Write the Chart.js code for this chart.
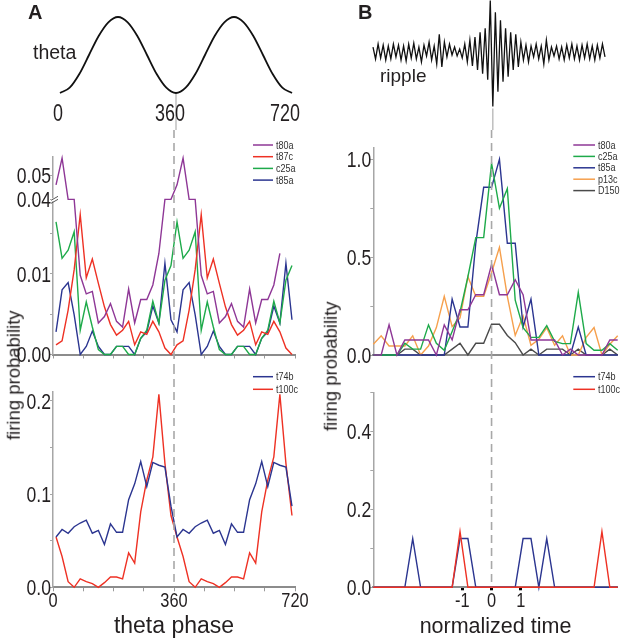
<!DOCTYPE html>
<html>
<head>
<meta charset="utf-8">
<script src="https://cdn.jsdelivr.net/npm/chart.js@4.4.1/dist/chart.umd.min.js"></script>
<style>
html, body { margin: 0; padding: 0; background: #fff; overflow: hidden; }
#fig { position: relative; width: 622px; height: 640px; font-family: 'Liberation Sans', Arial, sans-serif; color: #231f20; }
#fig canvas { position: absolute; }
.lbl { position: absolute; white-space: nowrap; line-height: 1; }
.nar { text-align: center; width: 50px; font-size: 23px; transform: scaleX(0.78); }
.ylab { width: 200px; text-align: center; font-size: 18.5px; transform: rotate(-90deg); }
</style>
</head>
<body>
<div id="fig">
  <canvas id="thetaWave" width="311" height="130" style="left:0;top:0"></canvas>
  <canvas id="thetaMid" width="311" height="236" style="left:0;top:130px"></canvas>
  <canvas id="thetaBot" width="311" height="274" style="left:0;top:366px"></canvas>
  <canvas id="rippleWave" width="311" height="130" style="left:311px;top:0"></canvas>
  <canvas id="rippleMid" width="311" height="236" style="left:311px;top:130px"></canvas>
  <canvas id="rippleBot" width="311" height="274" style="left:311px;top:366px"></canvas>

  <div class="lbl" style="left:28px;top:2px;font-size:20px;font-weight:bold">A</div>
  <div class="lbl" style="left:358px;top:2px;font-size:20px;font-weight:bold">B</div>
  <div class="lbl" style="left:33px;top:43px;font-size:19.5px">theta</div>
  <div class="lbl" style="left:380px;top:66px;font-size:19px">ripple</div>
  <div class="lbl nar" style="left:33px;top:102px">0</div>
  <div class="lbl nar" style="left:145px;top:102px">360</div>
  <div class="lbl nar" style="left:260px;top:102px">720</div>
  <div class="lbl ylab" style="left:-86px;top:366px">firing probability</div>
  <div class="lbl ylab" style="left:231px;top:357px">firing probability</div>
</div>

<script>
// ---------- A: theta phase (one cycle, bins of 18 deg, plotted twice) ----------
const thetaBins = [9, 27, 45, 63, 81, 99, 117, 135, 153, 171, 189, 207, 225, 243, 261, 279, 297, 315, 333, 351];

const t80aTheta = [0.046, 0.057, 0.040, 0.040, 0.0098, 0.0075, 0.0078, 0.0039, 0.0047, 0.0063, 0.0041, 0.0034, 0.0081, 0.0039, 0.0068, 0.0068, 0.0086, 0.0125, 0.040, 0.040];
const t87cTheta = [0.0012, 0.0017, 0.0055, 0.0105, 0.0173, 0.0095, 0.0118, 0.0088, 0.0059, 0.0037, 0.0024, 0.0030, 0.0041, 0.0012, 0.0028, 0.0025, 0.0041, 0.0028, 0.0008, 0.0];
const c25aTheta = [0.0164, 0.0119, 0.0129, 0.0152, 0.0030, 0.0065, 0.0034, 0.0006, 0.0, 0.0, 0.0010, 0.0010, 0.0, 0.0, 0.0020, 0.0030, 0.0066, 0.0039, 0.0092, 0.0110];
const t85aTheta = [0.0028, 0.0080, 0.0089, 0.0049, 0.0, 0.0010, 0.0029, 0.0010, 0.0, 0.0, 0.0010, 0.0010, 0.0010, 0.0, 0.0020, 0.0028, 0.0060, 0.0039, 0.0113, 0.0043];

const t74bTheta = [0.054, 0.062, 0.058, 0.065, 0.069, 0.072, 0.058, 0.061, 0.046, 0.068, 0.059, 0.059, 0.094, 0.111, 0.135, 0.108, 0.134, 0.131, 0.129, 0.087];
const t100cTheta = [0.054, 0.033, 0.006, 0.0, 0.009, 0.006, 0.004, 0.0, 0.005, 0.011, 0.011, 0.009, 0.037, 0.026, 0.081, 0.115, 0.140, 0.207, 0.133, 0.077];

// theta reference trace (normalised, trough = 0)
const thetaDeg = [0, 30, 60, 90, 120, 150, 180, 210, 240, 270, 300, 330, 360, 390, 420, 450, 480, 510, 540, 570, 600, 630, 660, 690, 720];
const thetaTrace = [0, 0.07, 0.25, 0.5, 0.75, 0.93, 1, 0.93, 0.75, 0.5, 0.25, 0.07, 0, 0.07, 0.25, 0.5, 0.75, 0.93, 1, 0.93, 0.75, 0.5, 0.25, 0.07, 0];

// ---------- B: normalized time around ripple peak ----------
const binWidth = 0.27;
const zeroBin = 15;

const t80aRipple = [0, 0, 0.154, 0, 0.077, 0.077, 0.077, 0.077, 0, 0.154, 0.077, 0.231, 0.231, 0.308, 0.308, 0.462, 0.308, 0.308, 0.385, 0.308, 0.077, 0.077, 0.077, 0.077, 0, 0.03, 0, 0, 0, 0, 0.077, 0.077];
const c25aRipple = [0, 0, 0, 0, 0.06, 0.03, 0.03, 0.154, 0.06, 0.024, 0.12, 0.22, 0.40, 0.60, 0.60, 0.98, 0.75, 0.85, 0.28, 0.14, 0.09, 0.09, 0.15, 0.07, 0.058, 0.058, 0.32, 0.058, 0.024, 0.024, 0.058, 0.024];
const t85aRipple = [0, 0, 0, 0, 0, 0, 0, 0, 0, 0, 0.286, 0.143, 0.143, 0.571, 0.857, 0.857, 1.0, 0.571, 0.571, 0.143, 0.286, 0, 0, 0, 0, 0, 0.143, 0, 0, 0, 0, 0];
const p13cRipple = [0.055, 0.098, 0.046, 0.046, 0.046, 0.098, 0, 0.046, 0.14, 0.30, 0.145, 0.19, 0.40, 0.30, 0.30, 0.42, 0.55, 0.30, 0.10, 0.20, 0.05, 0.08, 0.14, 0.05, 0.098, 0, 0, 0.09, 0.14, 0, 0.055, 0.098];
const d150Ripple = [0, 0, 0, 0, 0.03, 0.03, 0, 0, 0, 0, 0.03, 0.06, 0, 0.06, 0.06, 0.157, 0.157, 0.10, 0.063, 0, 0.03, 0, 0.03, 0.03, 0.03, 0, 0.03, 0, 0, 0, 0.03, 0];

const t74bRipple = [0, 0, 0, 0, 0, 0.125, 0, 0, 0, 0, 0, 0.125, 0.125, 0, 0, 0, 0, 0, 0, 0.125, 0.125, 0, 0.125, 0, 0, 0, 0, 0, 0, 0, 0, 0];
const t100cRipple = [0, 0, 0, 0, 0, 0, 0, 0, 0, 0, 0, 0.143, 0, 0, 0, 0, 0, 0, 0, 0, 0, 0, 0, 0, 0, 0, 0, 0, 0, 0.143, 0, 0];

// ripple reference trace, successive peaks and troughs (arbitrary units)
const rippleTrace = [5, -7, 8, -6, 7, -8, 6, -7, 8, -5, 7, -8, 6, -9, 8, -6, 9, -7, 5, -10,
  7, -4, 10, -8, 6, -12, 18, -15, 10, -5, 8, -3, 5, -4, 3, -6, 8, -10, 12, -14,
  15, -18, 20, -22, 24, -28, 52, -55, 40, -40, 32, -30, 24, -25, 20, -18, 18, -15, 10, -8,
  7, -10, 6, -5, 8, -7, 6, -12, 12, -8, 5, -4, 6, -7, 5, -8, 7, -6, 8, -7,
  6, -8, 7, -6, 8, -7, 6, -8, 7, -6, 8, -5];
const rippleCentre = 47;

// ---------- styling ----------
const SANS = "'Liberation Sans', Arial, sans-serif";
const INK = '#231f20';
const COL = { purple: '#8e3796', red: '#ee3124', green: '#1eaa4a', blue: '#2b3590', orange: '#f6a04d', gray: '#4a4a4a' };

// broken y axis of the upper theta panel
const BREAK_LOW = 0.0192;
const BREAK_HIGH = 0.04;
const UPPER_SCALE = 0.30;
function brk(v) {
    if (v == null) return null;
    if (v <= BREAK_LOW) return v;
    if (v < BREAK_HIGH) return BREAK_LOW;
    return BREAK_LOW + (v - BREAK_HIGH) * UPPER_SCALE;
}

const thetaX = thetaBins.concat(thetaBins.map(p => p + 360));
const rippleX = t80aRipple.map((_, i) => (i - zeroBin) * binWidth);

function series(label, color, xs, ys, extra) {
    return Object.assign({
        label, borderColor: color, backgroundColor: color, borderWidth: 1.4,
        pointRadius: 0, tension: 0, fill: false, clip: false,
        data: ys.map((y, i) => ({ x: xs[i], y }))
    }, extra || {});
}

// draw text squeezed horizontally (the figure uses a condensed face)
function squeezedText(ctx, txt, x, y, squeeze) {
    ctx.save();
    ctx.translate(x, y);
    ctx.scale(squeeze, 1);
    ctx.fillText(txt, 0, 0);
    ctx.restore();
}

// plugins
const refLine = {
    id: 'refLine',
    afterDatasetsDraw(chart, args, o) {
        if (o.value == null) return;
        const ctx = chart.ctx;
        const x = chart.scales.x.getPixelForValue(o.value);
        const y0 = o.from === 'area' ? chart.chartArea.bottom + 1 : 0;
        const y1 = o.to === 'canvas' ? chart.height : chart.chartArea.bottom;
        ctx.save();
        ctx.strokeStyle = o.color || '#a8a8a8';
        ctx.lineWidth = o.width || 1.6;
        ctx.setLineDash(o.dash || []);
        ctx.beginPath();
        ctx.moveTo(x, y0);
        ctx.lineTo(x, y1);
        ctx.stroke();
        ctx.restore();
    }
};

const miniLegend = {
    id: 'miniLegend',
    afterDraw(chart, args, o) {
        if (o.x == null) return;
        const ctx = chart.ctx;
        ctx.save();
        ctx.font = '11px ' + SANS;
        ctx.textBaseline = 'middle';
        ctx.textAlign = 'left';
        chart.data.datasets.forEach((ds, i) => {
            const y = o.y + i * o.rowH;
            ctx.strokeStyle = ds.borderColor;
            ctx.lineWidth = 1.5;
            ctx.beginPath();
            ctx.moveTo(o.x, y);
            ctx.lineTo(o.x + o.len, y);
            ctx.stroke();
            ctx.fillStyle = '#333';
            squeezedText(ctx, ds.label, o.x + o.len + 3, y + 0.5, 0.82);
        });
        ctx.restore();
    }
};

const axisBreak = {
    id: 'axisBreak',
    afterDraw(chart, args, o) {
        if (o.value == null) return;
        const ctx = chart.ctx;
        const x = chart.chartArea.left;
        const y = chart.scales.y.getPixelForValue(o.value);
        ctx.save();
        ctx.fillStyle = '#fff';
        ctx.fillRect(x - 2, y - 1, 4, 3);
        ctx.strokeStyle = '#555';
        ctx.lineWidth = 1;
        ctx.beginPath();
        ctx.moveTo(x - 2, y + 1); ctx.lineTo(x + 5, y - 3);
        ctx.moveTo(x - 2, y + 4); ctx.lineTo(x + 5, y);
        ctx.stroke();
        ctx.restore();
    }
};

// tick labels, drawn at the scale's own tick positions in a condensed style
const narrowLabels = {
    id: 'narrowLabels',
    afterDraw(chart, args, o) {
        const ctx = chart.ctx;
        ['x', 'y'].forEach(key => {
            const spec = o[key];
            if (!spec) return;
            const s = chart.scales[key];
            ctx.save();
            ctx.font = spec.size + 'px ' + SANS;
            ctx.fillStyle = INK;
            ctx.textBaseline = 'alphabetic';
            ctx.textAlign = key === 'y' ? 'right' : 'center';
            s.ticks.forEach((t, i) => {
                const txt = spec.labels[i];
                if (!txt) return;
                if (key === 'y') {
                    squeezedText(ctx, txt, chart.chartArea.left - spec.gap, s.getPixelForValue(t.value) + spec.size * 0.358, spec.squeeze);
                } else {
                    squeezedText(ctx, txt, s.getPixelForValue(t.value), chart.chartArea.bottom + spec.gap, spec.squeeze);
                }
            });
            ctx.restore();
        });
    }
};

function yAxis(width, min, max, ticks) {
    return {
        min, max,
        afterFit: s => { s.width = width; },
        afterBuildTicks: s => { s.ticks = ticks.map(value => ({ value })); },
        ticks: { display: false, autoSkip: false },
        grid: { drawOnChartArea: false, drawTicks: true, tickLength: 3, color: '#a6a6a6', lineWidth: 1 },
        border: { color: '#a6a6a6', width: 1.5 }
    };
}

function xAxis(o) {
    const axis = {
        type: 'linear', min: o.min, max: o.max,
        afterFit: s => { s.height = o.height; },
        ticks: { display: false, autoSkip: false },
        grid: {
            drawOnChartArea: false, drawTicks: !!o.ticks, tickLength: o.tickLength || 4,
            color: '#9a9a9a', tickColor: o.tickColor || '#9a9a9a', tickWidth: o.tickWidth || 1
        },
        border: { color: '#8c8c8c', width: 2 },
        title: o.title
            ? { display: true, text: o.title, color: INK, font: { family: SANS, size: o.titleSize }, padding: 0 }
            : { display: false }
    };
    if (o.ticks) axis.afterBuildTicks = s => { s.ticks = o.ticks.map(value => ({ value })); };
    return axis;
}

function baseOptions(padding, scales, plugins) {
    return {
        responsive: false,
        animation: false,
        events: [],
        layout: { padding },
        scales,
        plugins: Object.assign({ legend: { display: false }, tooltip: { enabled: false } }, plugins)
    };
}

const quarterTicks = [0, 90, 180, 270, 360, 450, 540, 630, 720];
const yLabelStyle = { size: 22, squeeze: 0.8, gap: 2 };
const xLabelStyle = { size: 21, squeeze: 0.78, gap: 19.4 };

// ---------- A top: theta trace ----------
new Chart(document.getElementById('thetaWave'), {
    type: 'line',
    data: { datasets: [series('theta', '#111', thetaDeg, thetaTrace, { borderWidth: 1.8, cubicInterpolationMode: 'monotone' })] },
    options: baseOptions({ left: 60, right: 19, top: 17, bottom: 37 }, {
        x: { type: 'linear', min: 0, max: 720, display: false },
        y: { min: 0, max: 1, display: false }
    }, { refLine: { value: 360, from: 'area', to: 'canvas', color: '#b5b5b5', width: 1.3 } }),
    plugins: [refLine]
});

// ---------- A middle ----------
new Chart(document.getElementById('thetaMid'), {
    type: 'line',
    data: {
        datasets: [
            series('t80a', COL.purple, thetaX, t80aTheta.concat(t80aTheta.slice(0, 18)).map(brk)),
            series('t87c', COL.red, thetaX, t87cTheta.concat(t87cTheta).map(brk)),
            series('c25a', COL.green, thetaX, c25aTheta.concat(c25aTheta).map(brk)),
            series('t85a', COL.blue, thetaX, t85aTheta.concat(t85aTheta).map(brk))
        ]
    },
    options: baseOptions({ left: 0, right: 16, top: 26.5, bottom: 0 }, {
        x: xAxis({ min: 0, max: 720, height: 11.5, ticks: quarterTicks, tickLength: 4 }),
        y: yAxis(53, 0, 0.0245, [0, 0.005, 0.01, 0.015, brk(0.04), brk(0.05)])
    }, {
        refLine: { value: 360, dash: [8, 5], to: 'canvas' },
        miniLegend: { x: 253, y: 15, rowH: 11.7, len: 20 },
        axisBreak: { value: brk(0.04) },
        narrowLabels: { y: Object.assign({ labels: ['0.00', '', '0.01', '', '0.04', '0.05'] }, yLabelStyle) }
    }),
    plugins: [refLine, miniLegend, axisBreak, narrowLabels]
});

// ---------- A bottom ----------
new Chart(document.getElementById('thetaBot'), {
    type: 'line',
    data: {
        datasets: [
            series('t74b', COL.blue, thetaX, t74bTheta.concat(t74bTheta)),
            series('t100c', COL.red, thetaX, t100cTheta.concat(t100cTheta))
        ]
    },
    options: baseOptions({ left: 0, right: 16, top: 25.6, bottom: 0 }, {
        x: xAxis({ min: 0, max: 720, height: 52.7, ticks: quarterTicks, tickLength: 4, title: 'theta phase', titleSize: 23 }),
        y: yAxis(53, 0, 0.21, [0, 0.05, 0.1, 0.15, 0.2])
    }, {
        refLine: { value: 360, dash: [8, 5] },
        miniLegend: { x: 253, y: 10.7, rowH: 12.6, len: 20 },
        narrowLabels: {
            x: Object.assign({ labels: ['0', '', '', '', '360', '', '', '', '720'] }, xLabelStyle),
            y: Object.assign({ labels: ['0.0', '', '0.1', '', '0.2'] }, yLabelStyle)
        }
    }),
    plugins: [refLine, miniLegend, narrowLabels]
});

// ---------- B top: ripple trace ----------
new Chart(document.getElementById('rippleWave'), {
    type: 'line',
    data: { datasets: [series('ripple', '#111', rippleTrace.map((_, i) => i), rippleTrace, { borderWidth: 1.3 })] },
    options: baseOptions({ left: 62, right: 17, top: 0, bottom: 22.5 }, {
        x: { type: 'linear', min: 0, max: rippleTrace.length - 1, display: false },
        y: { min: -56, max: 52.5, display: false }
    }, { refLine: { value: rippleCentre, from: 'area', to: 'canvas', color: '#b5b5b5', width: 1.3 } }),
    plugins: [refLine]
});

// ---------- B middle ----------
new Chart(document.getElementById('rippleMid'), {
    type: 'line',
    data: {
        datasets: [
            series('t80a', COL.purple, rippleX, t80aRipple),
            series('c25a', COL.green, rippleX, c25aRipple),
            series('t85a', COL.blue, rippleX, t85aRipple),
            series('p13c', COL.orange, rippleX, p13cRipple),
            series('D150', COL.gray, rippleX, d150Ripple)
        ]
    },
    options: baseOptions({ left: 0, right: 4.3, top: 17.6, bottom: 0 }, {
        x: xAxis({ min: rippleX[0], max: rippleX[rippleX.length - 1], height: 11 }),
        y: yAxis(62.3, 0, 1.06, [0, 0.25, 0.5, 0.75, 1.0])
    }, {
        refLine: { value: 0, dash: [8, 5], to: 'canvas' },
        miniLegend: { x: 262.3, y: 15, rowH: 11.4, len: 21.7 },
        narrowLabels: { y: Object.assign({ labels: ['0.0', '', '0.5', '', '1.0'] }, yLabelStyle) }
    }),
    plugins: [refLine, miniLegend, narrowLabels]
});

// ---------- B bottom ----------
new Chart(document.getElementById('rippleBot'), {
    type: 'line',
    data: {
        datasets: [
            series('t74b', COL.blue, rippleX, t74bRipple, { order: 1 }),
            series('t100c', COL.red, rippleX, t100cRipple, { order: 0 })
        ]
    },
    options: baseOptions({ left: 0, right: 4.3, top: 26.3, bottom: 0 }, {
        x: xAxis({
            min: rippleX[0], max: rippleX[rippleX.length - 1], height: 52.7,
            ticks: [-1, 0, 1], tickLength: 3, tickWidth: 3, tickColor: '#000',
            title: 'normalized time', titleSize: 21.5
        }),
        y: yAxis(62.3, 0, 0.5, [0, 0.1, 0.2, 0.3, 0.4, 0.5])
    }, {
        refLine: { value: 0, dash: [8, 5] },
        miniLegend: { x: 262.3, y: 10.7, rowH: 12.6, len: 21.7 },
        narrowLabels: {
            x: Object.assign({ labels: ['-1', '0', '1'] }, xLabelStyle),
            y: Object.assign({ labels: ['0.0', '', '0.2', '', '0.4', ''] }, yLabelStyle)
        }
    }),
    plugins: [refLine, miniLegend, narrowLabels]
});
</script>
</body>
</html>
